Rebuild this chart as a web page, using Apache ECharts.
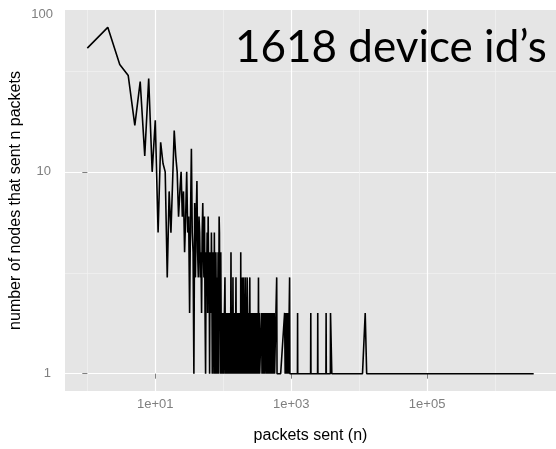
<!DOCTYPE html>
<html>
<head>
<meta charset="utf-8">
<script src="https://cdn.jsdelivr.net/npm/echarts@6/dist/echarts.min.js"></script>
<style>
  html, body { margin: 0; padding: 0; background: #ffffff; }
  #chart { width: 556px; height: 449px; }
</style>
</head>
<body>
<div id="chart"></div>
<script>
// packets sent per device (n) and how many devices sent exactly n packets
const packetsSent = [
  1, 2, 3, 4, 5, 6, 7, 8, 9, 10,
  11, 12, 13, 14, 15, 16, 17, 18, 19, 20,
  21, 22, 23, 24, 25, 26, 27, 28, 29, 30,
  31, 32, 33, 34, 35, 36, 37, 38, 39, 40,
  41, 42, 43, 44, 45, 46, 47, 48, 49, 50,
  51, 52, 53, 54, 55, 56, 57, 58, 59, 60,
  61, 62, 63, 64, 65, 66, 67, 68, 69, 70,
  71, 72, 73, 74, 75, 76, 77, 78, 79, 80,
  81, 82, 83, 84, 85, 86, 87, 88, 89, 90,
  91, 92, 93, 94, 96, 98, 100, 102, 104, 106,
  108, 110, 112, 114, 116, 118, 120, 122, 124, 126,
  128, 130, 132, 134, 136, 137, 139, 141, 143, 145,
  147, 149, 151, 154, 156, 158, 160, 163, 165, 168,
  170, 173, 175, 178, 180, 181, 183, 186, 188, 190,
  193, 195, 198, 200, 203, 205, 208, 211, 213, 216,
  219, 222, 225, 227, 230, 233, 236, 239, 242, 246,
  249, 252, 255, 259, 262, 266, 269, 273, 276, 280,
  284, 289, 293, 298, 302, 307, 311, 322, 326, 330,
  334, 340, 344, 366, 372, 378, 384, 392, 398, 405,
  410, 428, 434, 440, 446, 452, 458, 465, 472, 480,
  487, 495, 503, 511, 519, 527, 536, 545, 553, 562,
  570, 605, 612, 619, 700, 800, 815, 830, 845, 860,
  876, 892, 908, 940, 948, 956, 1100, 1236, 1242, 1248,
  1930, 1942, 1954, 2445, 2459, 2473, 3245, 3265, 3285, 3770,
  3790, 3944, 3960, 11200, 12280, 12900, 3700000
];
const nodeCounts = [
  41, 52, 34, 30, 17, 28, 12, 29, 10, 18,
  5, 14, 11, 10, 3, 8, 5, 9, 16, 12,
  10, 6, 8, 10, 6, 8, 4, 6, 10, 5,
  6, 2, 6, 13, 5, 4, 1, 7, 3, 6,
  9, 4, 3, 6, 5, 3, 4, 2, 5, 7,
  4, 3, 6, 2, 1, 4, 3, 5, 2, 6,
  3, 4, 1, 4, 3, 2, 5, 3, 1, 4,
  2, 3, 1, 5, 2, 3, 1, 4, 2, 3,
  1, 3, 2, 4, 1, 2, 6, 5, 2, 3,
  1, 4, 2, 1, 2, 1, 2, 1, 2, 3,
  1, 2, 1, 2, 1, 2, 1, 2, 1, 2,
  1, 4, 1, 2, 2, 1, 3, 1, 2, 1,
  2, 2, 1, 3, 1, 2, 1, 2, 1, 2,
  1, 2, 1, 2, 1, 4, 1, 2, 3, 1,
  2, 1, 3, 1, 2, 1, 2, 3, 1, 2,
  1, 2, 3, 1, 2, 1, 2, 1, 2, 3,
  1, 2, 1, 2, 1, 2, 1, 2, 1, 2,
  1, 2, 1, 2, 1, 2, 1, 2, 1, 3,
  1, 2, 1, 2, 1, 2, 1, 2, 1, 2,
  1, 2, 1, 2, 1, 2, 1, 2, 1, 2,
  1, 2, 1, 2, 1, 2, 1, 2, 1, 2,
  1, 1, 3, 1, 1, 2, 1, 2, 1, 2,
  1, 2, 1, 1, 3, 1, 1, 1, 2, 1,
  1, 2, 1, 1, 2, 1, 1, 2, 1, 1,
  2, 2, 1, 1, 2, 1, 1
];

// tick positions in decades (log10 units)
const xMajorDecades = [1, 3, 5];
const xMinorDecades = [0, 2, 4, 6];
const yMajorDecades = [0, 1];
const yMinorDecades = [0.5, 1.5];

const chartTitle = '1618 device id\u2019s';
const xAxisTitle = 'packets sent (n)';
const yAxisTitle = 'number of nodes that sent n packets';
const yTopLabel = '100';

// data drawn on log10 scales, with 5% padding on each side of the data range
const points = packetsSent.map((n, i) => [Math.log10(n), Math.log10(nodeCounts[i])]);
function paddedRange(values) {
  const lo = Math.min.apply(null, values), hi = Math.max.apply(null, values);
  const pad = (hi - lo) * 0.05;
  return [lo - pad, hi + pad];
}
const xRange = paddedRange(points.map(p => p[0]));
const yRange = paddedRange(points.map(p => p[1]));

const tickGrey = '#7f7f7f';
const labelFont = 'Liberation Sans, Arial, sans-serif';

function sciLabel(v) {
  const e = Math.round(v);
  return '1e' + (e < 0 ? '-' : '+') + String(Math.abs(e)).padStart(2, '0');
}

const chart = echarts.init(document.getElementById('chart'), null, { renderer: 'canvas' });
chart.setOption({
  animation: false,
  backgroundColor: '#ffffff',
  grid: {
    left: 64, top: 10, width: 494, height: 385,
    show: true, backgroundColor: '#e5e5e5', borderWidth: 0,
    containLabel: false
  },
  xAxis: [
    {
      type: 'value', min: xRange[0], max: xRange[1],
      axisLine: { show: false },
      axisTick: { show: true, length: 5, customValues: xMajorDecades, lineStyle: { color: tickGrey, width: 1 } },
      axisLabel: {
        show: true, customValues: xMajorDecades, margin: 7,
        color: tickGrey, fontSize: 13, fontFamily: labelFont,
        formatter: sciLabel
      },
      splitLine: { show: true, lineStyle: { color: '#ffffff', width: 1.2 } },
      name: xAxisTitle, nameLocation: 'middle', nameGap: 37,
      nameTextStyle: { color: '#000000', fontSize: 16, fontFamily: labelFont }
    },
    {
      type: 'value', min: xRange[0], max: xRange[1],
      axisLine: { show: false },
      axisTick: { show: false, customValues: xMinorDecades },
      axisLabel: { show: false, customValues: xMinorDecades },
      splitLine: { show: true, lineStyle: { color: '#f2f2f2', width: 0.7 } }
    }
  ],
  yAxis: [
    {
      type: 'value', min: yRange[0], max: yRange[1],
      axisLine: { show: false },
      axisTick: { show: true, length: 5, customValues: yMajorDecades, lineStyle: { color: tickGrey, width: 1 } },
      axisLabel: {
        show: true, customValues: yMajorDecades, margin: 14,
        color: tickGrey, fontSize: 13, fontFamily: labelFont,
        formatter: v => String(Math.round(Math.pow(10, v)))
      },
      splitLine: { show: true, lineStyle: { color: '#ffffff', width: 1.2 } },
      name: yAxisTitle, nameLocation: 'middle', nameGap: 41, nameRotate: 90,
      nameTextStyle: { color: '#000000', fontSize: 16, fontFamily: labelFont }
    },
    {
      type: 'value', min: yRange[0], max: yRange[1],
      axisLine: { show: false },
      axisTick: { show: false, customValues: yMinorDecades },
      axisLabel: { show: false, customValues: yMinorDecades },
      splitLine: { show: true, lineStyle: { color: '#f2f2f2', width: 0.7 } }
    }
  ],
  series: [{
    type: 'line',
    xAxisIndex: 0, yAxisIndex: 0,
    data: points,
    showSymbol: false,
    lineStyle: { color: '#000000', width: 1.6 },
    z: 5
  }],
  graphic: [
    {
      type: 'text', left: 235, top: 26, z: 10,
      style: { text: chartTitle, fill: '#000000', font: '44px Lato, "Open Sans", sans-serif' }
    },
    {
      type: 'text', right: 503, top: 8, z: 10,
      style: { text: yTopLabel, fill: tickGrey, font: '13px "Liberation Sans", Arial, sans-serif' }
    }
  ]
});
</script>
</body>
</html>
